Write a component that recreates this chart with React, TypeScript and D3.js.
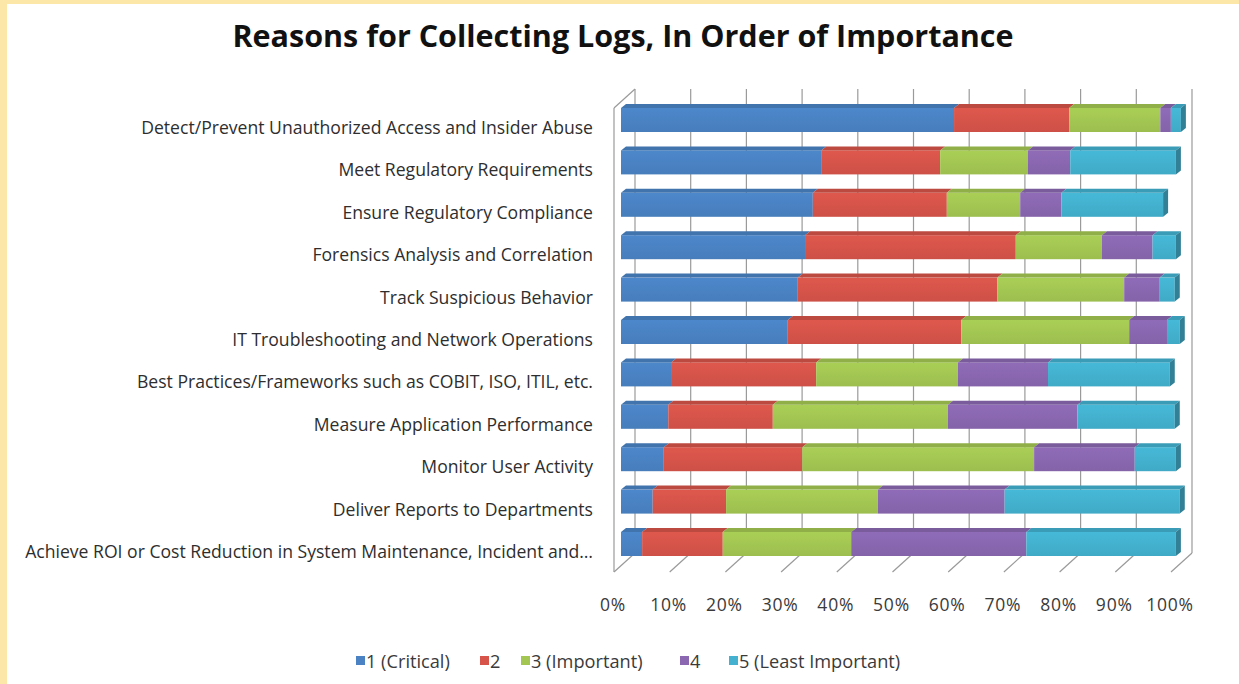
import React from 'react';
import * as d3 from 'd3';

const categories = [
  'Detect/Prevent Unauthorized Access and Insider Abuse',
  'Meet Regulatory Requirements',
  'Ensure Regulatory Compliance',
  'Forensics Analysis and Correlation',
  'Track Suspicious Behavior',
  'IT Troubleshooting and Network Operations',
  'Best Practices/Frameworks such as COBIT, ISO, ITIL, etc.',
  'Measure Application Performance',
  'Monitor User Activity',
  'Deliver Reports to Departments',
  'Achieve ROI or Cost Reduction in System Maintenance, Incident and\u2026',
];

const seriesNames = ['1 (Critical)', '2', '3 (Important)', '4', '5 (Least Important)'];

const critical = [59.9, 36.0, 34.5, 33.1, 31.8, 30.0, 9.0, 8.5, 7.7, 5.7, 3.8];
const rank2 = [20.7, 21.4, 24.1, 37.9, 35.9, 31.2, 26.1, 18.8, 24.9, 13.2, 14.5];
const important = [16.4, 15.8, 13.2, 15.5, 22.8, 30.2, 25.5, 31.5, 41.7, 27.3, 23.1];
const rank4 = [1.9, 7.6, 7.4, 9.1, 6.4, 6.8, 16.2, 23.3, 18.1, 22.8, 31.5];
const leastImportant = [1.8, 19.0, 18.3, 4.2, 2.7, 2.3, 21.9, 17.5, 7.4, 31.5, 26.9];

const tickValues = [0, 10, 20, 30, 40, 50, 60, 70, 80, 90, 100];

const colors = ['#4a82c3', '#d6544a', '#a3c652', '#8a67b0', '#43b1cf'];

export default function App() {
  const W = 1239;
  const H = 684;
  const series = [critical, rank2, important, rank4, leastImportant];
  const keys = seriesNames.map((_, k) => 's' + k);
  const rows = categories.map((c, i) => {
    const o: any = { cat: c };
    series.forEach((s, k) => (o[keys[k]] = s[i]));
    return o;
  });
  const stacked = d3.stack().keys(keys)(rows as any);

  const x = d3.scaleLinear().domain([0, 100]).range([621, 1177]);
  const xFront = d3.scaleLinear().domain([0, 100]).range([614, 1171]);
  const xBack = d3.scaleLinear().domain([0, 100]).range([635, 1192]);
  const y = d3.scalePoint<string>().domain(categories).range([120, 544]);

  const floorFront = 572;
  const floorBack = 553;
  const wallTop = 89;
  const frontTop = 108;
  const barH = 24;
  const dx = 5;
  const dy = 4;

  const legendX = [356, 480, 521, 680, 729];
  const font = "'Open Sans', 'DejaVu Sans', sans-serif";

  return (
    <svg
      width={W}
      height={H}
      viewBox={`0 0 ${W} ${H}`}
      style={{ position: 'absolute', left: 0, top: 0, background: '#ffffff' }}
    >
      <defs>
        {colors.map((c, k) => (
          <linearGradient key={k} id={'g' + k} x1="0" y1="0" x2="0" y2="1">
            <stop offset="0%" stopColor={d3.color(c)!.brighter(0.12).toString()} />
            <stop offset="100%" stopColor={d3.color(c)!.darker(0.12).toString()} />
          </linearGradient>
        ))}
      </defs>
      <rect x={0} y={0} width={W} height={H} fill="#ffffff" />
      <rect x={0} y={0} width={7} height={H} fill="#fce6a8" />
      <rect x={0} y={0} width={W} height={4} fill="#fce6a8" />

      <text
        x={623}
        y={47}
        textAnchor="middle"
        fontFamily={font}
        fontWeight="bold"
        fontSize={30.5}
        fill="#111"
      >
        Reasons for Collecting Logs, In Order of Importance
      </text>

      {/* walls */}
      <g stroke="#9a9a9a" strokeWidth={1.2} fill="none">
        {tickValues.map((t) => (
          <line key={'gb' + t} x1={xBack(t)} x2={xBack(t)} y1={wallTop} y2={floorBack} />
        ))}
        {tickValues.map((t) => (
          <line key={'gf' + t} x1={xFront(t)} x2={xBack(t)} y1={floorFront} y2={floorBack} />
        ))}
        <line x1={xFront(0)} x2={xFront(0)} y1={frontTop} y2={floorFront} />
        <line x1={xFront(0)} x2={xBack(0)} y1={frontTop} y2={wallTop} />
      </g>

      {/* bars */}
      {categories.map((c, i) => {
        const yc = y(c)!;
        const yt = yc - barH / 2;
        const yb = yc + barH / 2;
        return (
          <g key={c}>
            {stacked.map((s, k) => {
              const d = s[i];
              const x0 = x(d[0]);
              const x1 = x(d[1]);
              const col = d3.color(colors[k])!;
              return (
                <g key={k}>
                  <rect x={x0} y={yt} width={Math.max(0, x1 - x0)} height={barH} fill={`url(#g${k})`} />
                  <polygon
                    points={`${x0},${yt} ${x1},${yt} ${x1 + dx},${yt - dy} ${x0 + dx},${yt - dy}`}
                    fill={col.darker(0.35).toString()}
                  />
                  {k === stacked.length - 1 && (
                    <polygon
                      points={`${x1},${yt} ${x1 + dx},${yt - dy} ${x1 + dx},${yb - dy} ${x1},${yb}`}
                      fill={col.darker(0.9).toString()}
                    />
                  )}
                </g>
              );
            })}
            <text
              x={593}
              y={yc + 7}
              textAnchor="end"
              dominantBaseline="central"
              fontFamily={font}
              fontSize={17.6}
              fill="#2e2e2e"
            >
              {c}
            </text>
          </g>
        );
      })}

      {/* tick labels */}
      {tickValues.map((t) => (
        <text
          key={'t' + t}
          x={xFront(t) - 1}
          y={604}
          textAnchor="middle"
          dominantBaseline="central"
          fontFamily={font}
          fontSize={17.5}
          letterSpacing={0.8}
          fill="#3a3a3a"
        >
          {t + '%'}
        </text>
      ))}

      {/* legend */}
      {seriesNames.map((n, k) => (
        <g key={n}>
          <rect x={legendX[k]} y={656} width={9} height={9} fill={colors[k]} />
          <text
            x={legendX[k] + 10}
            y={661}
            dominantBaseline="central"
            fontFamily={font}
            fontSize={18.2}
            fill="#3a3a3a"
          >
            {n}
          </text>
        </g>
      ))}
    </svg>
  );
}
